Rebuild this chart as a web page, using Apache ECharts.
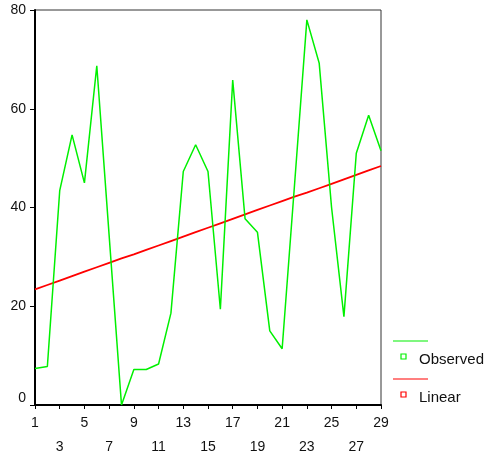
<!DOCTYPE html>
<html>
<head>
<meta charset="utf-8">
<script src="https://cdn.jsdelivr.net/npm/echarts@6/dist/echarts.min.js"></script>
<style>
  html, body { margin: 0; padding: 0; background: #ffffff; }
  #chart { width: 488px; height: 453px; }
</style>
</head>
<body>
<div id="chart"></div>
<script>
// Sequence positions along the x axis
const categories = ['1','2','3','4','5','6','7','8','9','10','11','12','13','14','15',
  '16','17','18','19','20','21','22','23','24','25','26','27','28','29'];

// Observed values
const observed = [7.4, 7.8, 43.4, 54.7, 45.0, 68.7, 34.3, 0.0, 7.2, 7.2, 8.3, 18.6, 47.3, 52.7, 47.3,
  19.4, 65.8, 37.7, 35.0, 15.0, 11.4, 44.5, 78.0, 69.2, 40.0, 17.9, 51.0, 58.7, 51.5];

// Linear trend values
const linear = [23.4, 24.3, 25.2, 26.1, 27.0, 27.9, 28.8, 29.7, 30.5, 31.4, 32.3, 33.2, 34.1, 35.0, 35.9,
  36.8, 37.7, 38.6, 39.5, 40.4, 41.3, 42.2, 43.0, 43.9, 44.8, 45.7, 46.6, 47.5, 48.4];

const seriesNames = ['Observed', 'Linear'];
const seriesColors = ['#00f000', '#ff0000'];

const FONT = '"Liberation Sans", Arial, sans-serif';

const chart = echarts.init(document.getElementById('chart'), null, { renderer: 'canvas' });

// Legend: a line sample above each marker and label
const legendGraphics = [];
seriesNames.forEach(function (name, i) {
  const y0 = 341 + i * 38;
  legendGraphics.push({
    type: 'line',
    shape: { x1: 393, y1: y0, x2: 428, y2: y0 },
    style: { stroke: seriesColors[i], lineWidth: 1.2 }
  });
  legendGraphics.push({
    type: 'rect',
    shape: { x: 401, y: y0 + 13, width: 5, height: 5 },
    style: { stroke: seriesColors[i], fill: '#ffffff', lineWidth: 1.2 }
  });
  legendGraphics.push({
    type: 'text',
    style: {
      x: 419, y: y0 + 19, text: name, fill: '#111111',
      font: '15px ' + FONT, textVerticalAlign: 'middle', verticalAlign: 'middle'
    }
  });
});

chart.setOption({
  animation: false,
  backgroundColor: '#ffffff',
  grid: {
    left: 35, right: 107, top: 10, bottom: 48,
    outerBoundsMode: 'none',
    containLabel: false,
    show: true, borderColor: '#333333', borderWidth: 1
  },
  xAxis: {
    type: 'category',
    data: categories,
    boundaryGap: false,
    axisLine: { lineStyle: { color: '#000000', width: 2 } },
    axisTick: { interval: 1, length: 4, lineStyle: { color: '#000000', width: 1 } },
    axisLabel: {
      interval: 1,
      margin: 6,
      color: '#111111',
      fontFamily: FONT,
      fontSize: 14,
      lineHeight: 24,
      formatter: function (v, idx) { return idx % 4 === 2 ? '\n' + v : v; }
    },
    splitLine: { show: false }
  },
  yAxis: {
    type: 'value',
    min: 0, max: 80, interval: 20,
    axisLine: { show: true, lineStyle: { color: '#000000', width: 2 } },
    axisTick: { show: true, length: 5, lineStyle: { color: '#000000', width: 1 } },
    axisLabel: {
      margin: 9,
      color: '#111111',
      fontFamily: FONT,
      fontSize: 14,
      formatter: function (v) { return v === 0 ? '{lo|0}' : String(v); },
      rich: { lo: { fontFamily: FONT, fontSize: 14, color: '#111111', padding: [0, 0, 14, 0] } }
    },
    splitLine: { show: false }
  },
  series: [
    {
      name: seriesNames[0],
      type: 'line',
      data: observed,
      showSymbol: false,
      lineStyle: { color: seriesColors[0], width: 1.5 },
      z: 3
    },
    {
      name: seriesNames[1],
      type: 'line',
      data: linear,
      showSymbol: false,
      lineStyle: { color: seriesColors[1], width: 1.8 },
      z: 2
    }
  ],
  graphic: legendGraphics
});
</script>
</body>
</html>
